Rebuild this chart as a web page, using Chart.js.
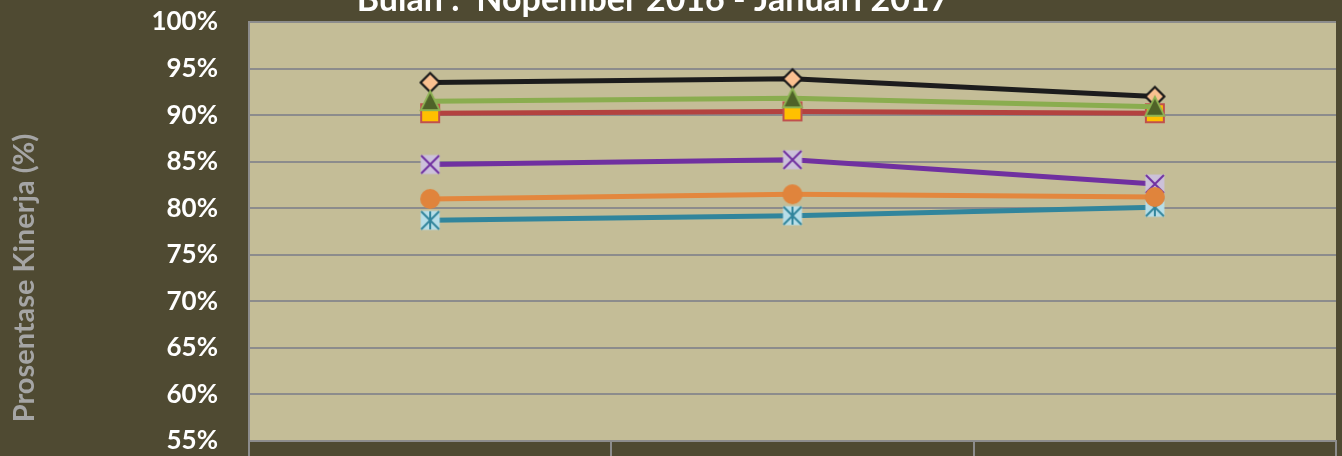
<!DOCTYPE html>
<html>
<head>
<meta charset="utf-8">
<script src="https://cdn.jsdelivr.net/npm/chart.js@4/dist/chart.umd.min.js"></script>
<style>
html,body{margin:0;padding:0;background:#4f4a32;}
#wrap{width:1342px;height:456px;position:relative;}
</style>
</head>
<body>
<div id="wrap"><canvas id="c" width="1342" height="456"></canvas></div>
<script>
const categories = ["Nopember 2016", "Desember 2016", "Januari 2017"];
const titleText = "Bulan :  Nopember 2016 - Januari 2017";
const yTitleText = "Prosentase Kinerja (%)";
const yTicks = [55, 60, 65, 70, 75, 80, 85, 90, 95, 100];

const seriesBlack  = [93.5, 93.9, 92.0];
const seriesGreen  = [91.5, 91.8, 90.9];
const seriesRed    = [90.2, 90.4, 90.2];
const seriesPurple = [84.7, 85.2, 82.6];
const seriesOrange = [81.0, 81.5, 81.2];
const seriesTeal   = [78.7, 79.2, 80.1];

function mk(draw){
  const c = document.createElement('canvas');
  c.width = 26; c.height = 26;
  const x = c.getContext('2d');
  draw(x);
  return c;
}
const mDiamond = mk(x=>{
  x.beginPath(); x.moveTo(13,3.5); x.lineTo(22.5,13); x.lineTo(13,22.5); x.lineTo(3.5,13); x.closePath();
  x.fillStyle='#fac090'; x.fill(); x.lineWidth=2.2; x.strokeStyle='#1a1a1a'; x.stroke();
});
const mTriangle = mk(x=>{
  x.beginPath(); x.moveTo(13,3); x.lineTo(22.5,22); x.lineTo(3.5,22); x.closePath();
  x.fillStyle='#4f6228'; x.fill(); x.lineWidth=1.8; x.strokeStyle='#8db353'; x.stroke();
});
const mSquare = mk(x=>{
  x.fillStyle='#ffc000'; x.fillRect(4,4,18,18);
  x.lineWidth=2; x.strokeStyle='#c0504d'; x.strokeRect(4,4,18,18);
});
const mX = mk(x=>{
  x.fillStyle='#ccc1da'; x.fillRect(3.5,3.5,19,19);
  x.lineWidth=2; x.strokeStyle='#7030a0';
  x.beginPath(); x.moveTo(4,4); x.lineTo(22,22); x.moveTo(22,4); x.lineTo(4,22); x.stroke();
});
const mCircle = mk(x=>{
  x.beginPath(); x.arc(13,13,10,0,Math.PI*2); x.fillStyle='#e0843c'; x.fill();
});
const mStar = mk(x=>{
  x.fillStyle='#b7dee8'; x.fillRect(3.5,3.5,19,19);
  x.lineWidth=2; x.strokeStyle='#31859c';
  x.beginPath(); x.moveTo(4,4); x.lineTo(22,22); x.moveTo(22,4); x.lineTo(4,22);
  x.moveTo(13,4); x.lineTo(13,22); x.stroke();
});

const bgPlugin = {
  id:'bg',
  beforeDraw(chart){
    const {ctx, chartArea:a} = chart;
    ctx.save();
    ctx.fillStyle='#4f4a32'; ctx.fillRect(0,0,chart.width,chart.height);
    ctx.fillStyle='#c4bd97'; ctx.fillRect(a.left,a.top,a.right-a.left,a.bottom-a.top);
    ctx.restore();
  },
  afterDraw(chart){
    const {ctx} = chart;
    ctx.save();
    ctx.fillStyle='#ffffff';
    ctx.font='bold 34px Lato';
    ctx.textAlign='center'; ctx.textBaseline='alphabetic';
    ctx.fillText(titleText, 653, 11);
    ctx.translate(25, 278);
    ctx.rotate(-Math.PI/2);
    ctx.fillStyle='#a5a5a5';
    ctx.font='bold 29px Lato';
    ctx.textBaseline='middle';
    ctx.fillText(yTitleText, 0, 0);
    ctx.restore();
  }
};

function ds(data, color, marker){
  return {data, borderColor:color, backgroundColor:color, borderWidth:5,
    pointStyle:marker, pointRadius:10, pointHoverRadius:10, tension:0, fill:false};
}

new Chart(document.getElementById('c'), {
  type:'line',
  data:{
    labels:categories,
    datasets:[
      ds(seriesOrange,'#e3873e',mCircle),
      ds(seriesGreen,'#8aad4f',mTriangle),
      ds(seriesPurple,'#7030a0',mX),
      ds(seriesTeal,'#31859c',mStar),
      ds(seriesRed,'#b3423f',mSquare),
      ds(seriesBlack,'#1c1c1c',mDiamond)
    ]
  },
  options:{
    responsive:false, animation:false,
    layout:{autoPadding:false, padding:{top:22,left:0,right:6,bottom:0}},
    plugins:{legend:{display:false},title:{display:false},tooltip:{enabled:false}},
    scales:{
      x:{
        type:'category', offset:true,
        grid:{display:true, offset:true, drawOnChartArea:false, drawTicks:true, tickLength:15, color:'#8c8c8c', lineWidth:2},
        border:{display:true, color:'#8c8c8c', width:2},
        ticks:{display:false},
        afterFit(s){ s.height = 15; s.paddingLeft = 0; s.paddingRight = 0; s.paddingTop = 0; s.paddingBottom = 0; }
      },
      y:{
        min:55, max:100,
        afterBuildTicks(s){ s.ticks = yTicks.map(v=>({value:v})); },
        grid:{color:'#8c8c8c', lineWidth:2, drawTicks:false},
        border:{display:true, color:'#8c8c8c', width:2},
        ticks:{color:'#ffffff', font:{family:'Lato', weight:'bold', size:26}, padding:31,
          callback:v=>v+'%'},
        afterFit(s){ s.width = 249; s.paddingTop = 0; s.paddingBottom = 0; }
      }
    }
  },
  plugins:[bgPlugin]
});
</script>
</body>
</html>
